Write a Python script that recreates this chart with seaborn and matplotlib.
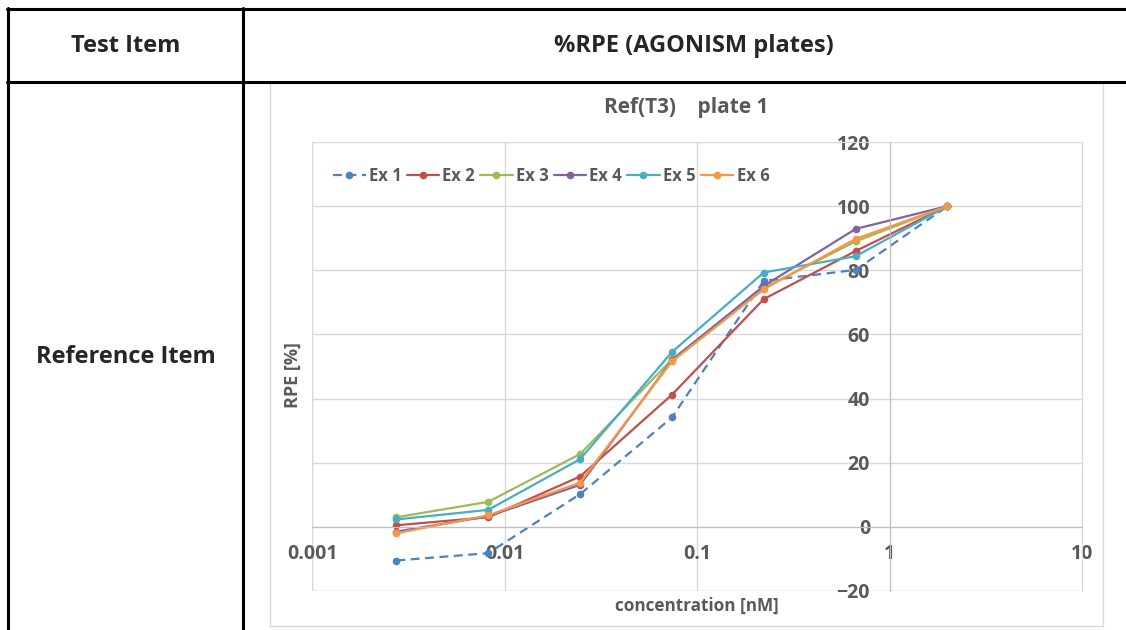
import numpy as np
import pandas as pd
import matplotlib
matplotlib.use("Agg")
import matplotlib.pyplot as plt
from matplotlib.lines import Line2D
from matplotlib.patches import Rectangle
import seaborn as sns

# 3-fold dilution series (nM)
conc = [0.00274, 0.00823, 0.0247, 0.0741, 0.222, 0.667, 2.0]
series_names = ["Ex 1", "Ex 2", "Ex 3", "Ex 4", "Ex 5", "Ex 6"]
ex1 = [-10.5, -8.2, 10.2, 34.1, 76.7, 80.1, 100]
ex2 = [0.5, 3.0, 15.7, 41.2, 71.0, 86.0, 100]
ex3 = [3.0, 7.8, 22.7, 52.2, 74.5, 89.0, 100]
ex4 = [-1.5, 3.3, 13.1, 52.0, 75.1, 92.9, 100]
ex5 = [2.3, 5.3, 21.1, 54.5, 79.3, 84.4, 100]
ex6 = [-2.0, 3.6, 13.8, 51.6, 74.1, 89.8, 100]
colors = ["#4F81BD", "#C0504D", "#9BBB59", "#8064A2", "#4BACC6", "#F79646"]

rows = []
for name, vals in zip(series_names, [ex1, ex2, ex3, ex4, ex5, ex6]):
    for c, v in zip(conc, vals):
        rows.append({"conc": c, "rpe": v, "series": name})
df = pd.DataFrame(rows)

sns.set_style("white")
plt.rcParams['font.family'] = ['Open Sans', 'DejaVu Sans']
grey = "#595959"

fig = plt.figure(figsize=(11.26, 6.3), dpi=100)
W, H = 1126, 630

# table borders
def hline(y, x0, x1):
    fig.add_artist(Line2D([x0 / W, x1 / W], [1 - y / H, 1 - y / H], color="black", lw=2.2))
def vline(x, y0, y1):
    fig.add_artist(Line2D([x / W, x / W], [1 - y0 / H, 1 - y1 / H], color="black", lw=2.2))

hline(9, 7, 1126)
hline(82, 7, 1126)
vline(8, 8, 630)
vline(243, 8, 630)

fig.text(126 / W, 1 - 46 / H, "Test Item", ha="center", va="center", fontsize=17, fontweight="bold")
fig.text(694 / W, 1 - 46 / H, "%RPE (AGONISM plates)", ha="center", va="center", fontsize=17, fontweight="bold")
fig.text(126 / W, 1 - 357 / H, "Reference Item", ha="center", va="center", fontsize=17, fontweight="bold")

# chart frame
fig.add_artist(Rectangle((270 / W, 1 - 626 / H), (1103 - 270) / W, (626 - 83) / H,
                         facecolor="white", edgecolor="#d9d9d9", lw=1, transform=fig.transFigure, zorder=1))

ax = fig.add_axes([312 / W, 1 - 591 / H, (1082 - 312) / W, (591 - 142) / H])
ax.set_zorder(2)
ax.patch.set_alpha(0)

sns.lineplot(data=df, x="conc", y="rpe", hue="series", style="series",
             palette=dict(zip(series_names, colors)),
             dashes={n: ((4, 2.5) if n == "Ex 1" else "") for n in series_names},
             markers={n: "o" for n in series_names},
             markersize=5.5, markeredgewidth=0, linewidth=1.6,
             estimator=None, sort=True, ax=ax)

ax.set_xscale("log")
ax.set_xlim(0.001, 10)
ax.set_ylim(-20, 120)
ax.set_xticks([0.001, 0.01, 0.1, 1, 10])
ax.set_xticklabels(["0.001", "0.01", "0.1", "1", "10"])
ax.set_yticks(range(-20, 121, 20))
ax.minorticks_off()
ax.grid(True, color="#d9d9d9", lw=1)
for s in ["top", "right"]:
    ax.spines[s].set_color("#d9d9d9")
ax.spines["left"].set_position(("data", 1))
ax.spines["bottom"].set_position(("data", 0))
ax.spines["left"].set_color("#bfbfbf")
ax.spines["bottom"].set_color("#bfbfbf")
ax.tick_params(axis="both", length=0, labelsize=14, labelcolor=grey)
ax.tick_params(axis="y", pad=14)
ax.tick_params(axis="x", pad=12)
for lab in ax.get_xticklabels() + ax.get_yticklabels():
    lab.set_fontweight("bold")
ax.set_xlabel("")
ax.set_ylabel("")

# frame lines at plot edges
ax.axhline(-20, color="#d9d9d9", lw=1, zorder=0)
ax.axvline(0.001, color="#d9d9d9", lw=1, zorder=0)

leg = ax.legend(loc="center left", bbox_to_anchor=(21 / 770, 1 - 34 / 449), ncol=6, frameon=False,
                fontsize=12, handlelength=1.95, handletextpad=0.2, columnspacing=0.3,
                borderaxespad=0.0, borderpad=0.0)
for t in leg.get_texts():
    t.set_color(grey)
    t.set_fontweight("bold")

fig.text(686 / W, 1 - 108 / H, "Ref(T3)    plate 1", ha="center", va="center",
         fontsize=15, fontweight="bold", color=grey)
fig.text(293 / W, 1 - 375 / H, "RPE [%]", ha="center", va="center", rotation=90,
         fontsize=13, fontweight="bold", color=grey)
fig.text(697 / W, 1 - 606 / H, "concentration [nM]", ha="center", va="center",
         fontsize=12.3, fontweight="bold", color=grey)

fig.savefig("out.png", dpi=100)
